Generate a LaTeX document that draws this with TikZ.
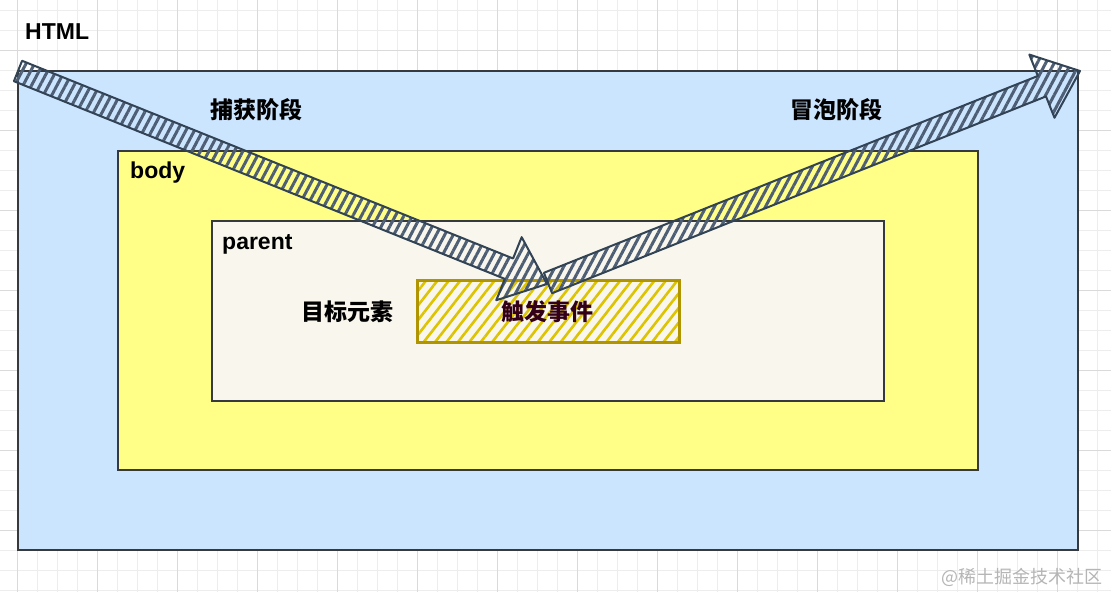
\documentclass[tikz,border=0pt]{standalone}
\usepackage{fontspec}
\setmainfont{Liberation Sans}
\newfontfamily\cjk{Noto Sans CJK SC}
\usetikzlibrary{calc,patterns.meta}

\definecolor{htmlfill}{HTML}{CCE5FF}
\definecolor{bodyfill}{HTML}{FFFF88}
\definecolor{parentfill}{HTML}{F9F7ED}
\definecolor{boxline}{HTML}{36393D}
\definecolor{hatchline}{HTML}{DDC300}
\definecolor{targetline}{HTML}{B09500}
\definecolor{arrowline}{HTML}{314354}
\definecolor{arrowhatch}{HTML}{4E5E74}
\definecolor{eventtext}{HTML}{33001A}
\definecolor{gridlight}{HTML}{EDEDED}
\definecolor{griddark}{HTML}{DADADA}
\definecolor{marktext}{HTML}{B5B5B5}

\tikzset{
  box/.style={draw=boxline, line width=1.6pt},
  title/.style={font=\fontsize{23}{27}\selectfont\bfseries, inner sep=0pt},
  cjktitle/.style={font=\fontsize{23}{27}\selectfont\cjk\bfseries, inner sep=0pt},
  fat/.style={draw=arrowline, line width=2pt, line join=round,
    pattern={Lines[angle=62,distance=7.5pt,line width=3pt]}, pattern color=arrowhatch},
}

% thick hand-drawn style arrow between two named points
\newcommand{\fatarrow}[2]{%
  \coordinate (neck) at ($(#2)!41pt!(#1)$);
  \draw [fat] ($(#1)!11pt!90:(#2)$) -- ($(neck)!11pt!90:(#2)$) --
    ($(neck)!34pt!90:(#2)$) -- (#2) -- ($(neck)!34pt!-90:(#2)$) --
    ($(neck)!11pt!-90:(#2)$) -- ($(#1)!11pt!-90:(#2)$) -- cycle;
}

\begin{document}
\begin{tikzpicture}[x=1pt, y=-1pt]
  \useasboundingbox (0, 0) rectangle (1111, 592);
  \fill [white] (0, 0) rectangle (1111, 592);
  % grid
  \foreach \x in {17, 37, ..., 1111}
    \draw [gridlight, line width=1pt] (\x, 0) -- (\x, 592);
  \foreach \y in {10, 30, ..., 592}
    \draw [gridlight, line width=1pt] (0, \y) -- (1111, \y);
  \foreach \x in {17, 97, ..., 1111}
    \draw [griddark, line width=1pt] (\x, 0) -- (\x, 592);
  \foreach \y in {50, 130, ..., 592}
    \draw [griddark, line width=1pt] (0, \y) -- (1111, \y);

  % nested boxes
  \draw [box, fill=htmlfill] (18, 71) rectangle (1078, 550);
  \draw [box, fill=bodyfill] (118, 151) rectangle (978, 470);
  \draw [box, fill=parentfill] (212, 221) rectangle (884, 401);
  \draw [draw=targetline, line width=3pt,
    pattern={Lines[angle=52,distance=9pt,line width=2.6pt]}, pattern color=hatchline]
    (417, 280) rectangle (679, 342);

  % phases
  \coordinate (capturetail) at (18, 71);
  \coordinate (capturetip) at (547, 284);
  \coordinate (bubbletail) at (548, 283);
  \coordinate (bubbletip) at (1080, 71);
  \fatarrow{capturetail}{capturetip}
  \fatarrow{bubbletail}{bubbletip}

  \node [title, anchor=base west] (htmltitle) at (25, 39.5) {HTML};
  \node [title, anchor=base west] (bodytitle) at (130, 178) {body};
  \node [title, anchor=base west] (parenttitle) at (222, 249) {parent};
  \node [cjktitle, anchor=base] (capture) at (256, 118.5) {捕获阶段};
  \node [cjktitle, anchor=base] (bubble) at (836, 118.5) {冒泡阶段};
  \node [cjktitle, anchor=base] (target) at (347.5, 320.5) {目标元素};
  \node [cjktitle, anchor=base, text=eventtext] (event) at (547.5, 320) {触发事件};
  \node [font=\fontsize{18}{21}\selectfont\cjk, text=marktext, inner sep=0pt,
    anchor=base east] (watermark) at (1103, 583) {@稀土掘金技术社区};
\end{tikzpicture}
\end{document}
